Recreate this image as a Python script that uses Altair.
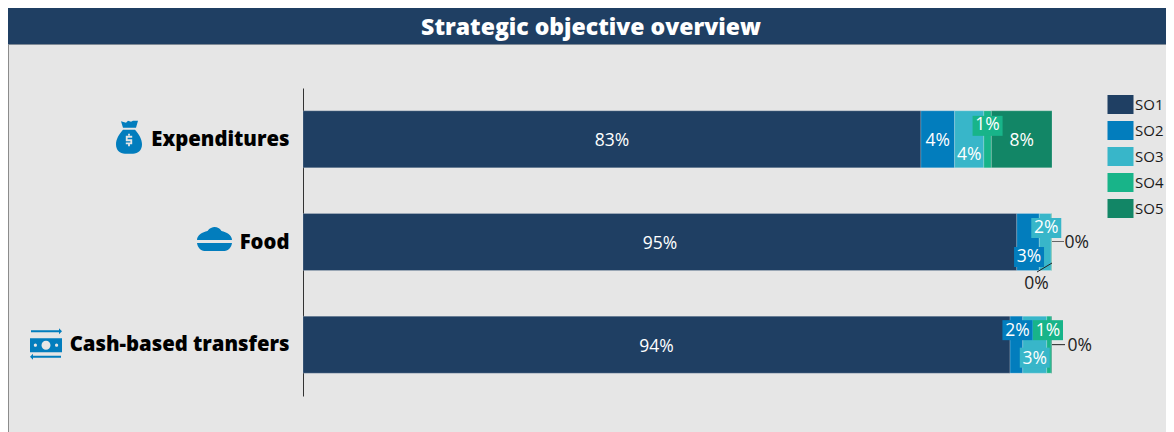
import altair as alt
import pandas as pd

categories = ["Expenditures", "Food", "Cash-based transfers"]
series = ["SO1", "SO2", "SO3", "SO4", "SO5"]
colors = ["#1f3f63", "#027dbd", "#38b6c9", "#18b489", "#128666"]

so1 = [82.5, 95.3, 94.4]
so2 = [4.5, 3.0, 1.7]
so3 = [3.9, 1.6, 3.2]
so4 = [1.0, 0.05, 0.6]
so5 = [8.1, 0.05, 0.1]
columns = [so1, so2, so3, so4, so5]

label_texts = [
    ["83%", "4%", "4%", "1%", "8%"],
    ["95%", "3%", "2%", "0%", "0%"],
    ["94%", "2%", "3%", "1%", "0%"],
]
# label displacement from the segment centre, in pixels
label_dx = [[0, 0, 0, 0, 0], [0, 1, 1, -15, 25], [0, 1, 0, -1, 28]]
label_dy = [[2, 2, 16, -14, 2], [2, 15, -14, 42, 1], [2, -14, 14, -14, 1]]
box_dy = [[0, 0, 0, -13.5, 0], [0, 15, -14, 0, 0], [0, -14.5, 13, -14.5, 0]]
boxed = [[0, 0, 0, 1, 0], [0, 1, 1, 0, 0], [0, 1, 1, 1, 0]]
dark_text = [[0, 0, 0, 0, 0], [0, 0, 0, 1, 1], [0, 0, 0, 0, 1]]

PX_PER_UNIT = 7.49
HALF_BAND = 28.5
TITLE = "Strategic objective overview"

bars = []
labels = []
for c, cat in enumerate(categories):
    start = 0.0
    for s, name in enumerate(series):
        v = columns[s][c]
        bars.append({"cat": cat, "so": name, "value": v, "ord": s})
        labels.append({
            "cat": cat, "so": name, "text": label_texts[c][s],
            "x": start + v / 2 + label_dx[c][s] / PX_PER_UNIT,
            "dy": label_dy[c][s] + HALF_BAND, "bdy": box_dy[c][s] + HALF_BAND,
            "boxed": boxed[c][s], "dark": dark_text[c][s],
        })
        start += v
bars = pd.DataFrame(bars)
labels = pd.DataFrame(labels)

BOX = "M-15,-10H15V10H-15Z"
BAG = ("M-8,-16L-3,-14.5L-1,-16.5L2,-15.5L4,-16.5L9,-16.5L7,-9.5L-6,-9.5Z"
       "M-6,-7.5L6,-7.5C10,-3 13,2 13,7C13,13 9,16.5 4,16.5L-4,16.5C-9,16.5 -13,13 -13,7C-13,2 -10,-3 -6,-7.5Z"
       "M3.2,-1.5L-3.2,-1.5L-3.2,3.8L1.4,3.8L1.4,5.2L-3.2,5.2L-3.2,7L3.2,7L3.2,2L-1.4,2L-1.4,0.3L3.2,0.3Z"
       "M0.9,-3.5L-0.9,-3.5L-0.9,-1.4L0.9,-1.4Z M0.9,6.9L-0.9,6.9L-0.9,9L0.9,9Z")
BOWL = ("M-17.5,1C-17.5,-4 -12,-7 -7,-8C-5,-11 -2,-12 0,-12C3,-12 5,-11 7,-8C12,-7 17.5,-4 17.5,1Z"
        "M-17.5,4H17.5C17,8 14,12 10,12H-10C-14,12 -17,8 -17.5,4Z")
CASH = ("M-16,-6.5H16V7.5H-16Z"
        "M4.5,0.5A4.5,4.5 0 1 0 -4.5,0.5A4.5,4.5 0 1 0 4.5,0.5Z"
        "M-9,0.5A1.6,1.6 0 1 0 -12.2,0.5A1.6,1.6 0 1 0 -9,0.5Z"
        "M12.2,0.5A1.6,1.6 0 1 0 9,0.5A1.6,1.6 0 1 0 12.2,0.5Z"
        "M-15,-14.5H13V-16.5L16,-13.5L13,-10.5V-12.5H-15Z"
        "M15,11H-13V9L-16,12L-13,15V13H15Z")
icons = pd.DataFrame({"cat": categories, "path": [BAG, BOWL, CASH],
                      "px": [129 - 303, 214.5 - 303, 46 - 303],
                      "dy": [-2 + HALF_BAND, -3 + HALF_BAND, 0 + HALF_BAND]})

leaders = pd.DataFrame({
    "cat": ["Food", "Food", "Cash-based transfers"],
    "x": [100, 100, 100],
    "path": ["M0,-0.5H12", "M0,21L-15,30", "M0,0H13"],
    "col": ["#666666", "#222222", "#222222"],
})

y_enc = alt.Y("cat:N", sort=categories,
              scale=alt.Scale(domain=categories, paddingInner=0.445, paddingOuter=0.2225),
              axis=alt.Axis(title=None, ticks=False, labelPadding=14, labelFontSize=20.3, labelOffset=0.5,
                            labelFont="Open Sans", labelFontWeight=800, labelColor="#000000",
                            domainColor="#333333", domainWidth=1, labelLimit=300))
x_scale = alt.Scale(domain=[0, 100], nice=False, zero=False)
x_none = alt.X("x:Q", scale=x_scale, axis=None)

one = pd.DataFrame({"a": [0]})

header = alt.Chart(one).mark_rect(color="#1f3f63").encode(
    x=alt.value(-295), x2=alt.value(863), y=alt.value(-80), y2=alt.value(-44))
header_line = alt.Chart(one).mark_rule(color="#7f8a96", strokeWidth=1).encode(
    x=alt.value(-295), x2=alt.value(863), y=alt.value(-43.5))
left_line = alt.Chart(one).mark_rule(color="#8c8c8c", strokeWidth=1).encode(
    x=alt.value(-294.5), y=alt.value(-43), y2=alt.value(344))

bar_layer = alt.Chart(bars).mark_bar(stroke="#ffffff", strokeOpacity=0.2, strokeWidth=1).encode(
    x=alt.X("value:Q", stack="zero", scale=x_scale, axis=None),
    y=y_enc,
    color=alt.Color("so:N", sort=series,
                    scale=alt.Scale(domain=series, range=colors),
                    legend=alt.Legend(title=None, orient="none", legendX=810, legendY=9,
                                      symbolType="M-13,-9.5H13V9.5H-13Z", symbolSize=4,
                                      symbolStrokeWidth=0, symbolOpacity=1,
                                      labelFont="Open Sans", labelFontSize=15, labelColor="#1a1a1a",
                                      labelOffset=7, rowPadding=7, padding=0)),
    order=alt.Order("ord:Q"),
)

box_layer = alt.Chart(labels).transform_filter("datum.boxed == 1").mark_point(
    filled=True, opacity=1, size=4, shape=BOX, strokeWidth=0).encode(
    x=x_none, y=alt.Y("cat:N", sort=categories),
    yOffset=alt.YOffset("bdy:Q", scale=None),
    color=alt.Color("so:N", legend=None),
)

leader_layer = alt.Chart(leaders).mark_point(filled=False, opacity=1, size=4, strokeWidth=1).encode(
    x=x_none, y=alt.Y("cat:N", sort=categories),
    shape=alt.Shape("path:N", scale=None),
    stroke=alt.Stroke("col:N", scale=None),
)

text_light = alt.Chart(labels).transform_filter("datum.dark == 0").mark_text(
    font="Open Sans", fontSize=17.5, color="#ffffff").encode(
    x=x_none, y=alt.Y("cat:N", sort=categories),
    yOffset=alt.YOffset("dy:Q", scale=None),
    text="text:N",
)
text_dark = alt.Chart(labels).transform_filter("datum.dark == 1").mark_text(
    font="Open Sans", fontSize=17.5, color="#222222").encode(
    x=x_none, y=alt.Y("cat:N", sort=categories),
    yOffset=alt.YOffset("dy:Q", scale=None),
    text="text:N",
)

icon_layer = alt.Chart(icons).mark_point(filled=True, opacity=1, size=4, strokeWidth=0, color="#027dbd").encode(
    x=alt.X("px:Q", scale=None),
    y=alt.Y("cat:N", sort=categories),
    yOffset=alt.YOffset("dy:Q", scale=None),
    shape=alt.Shape("path:N", scale=None),
)

chart = alt.layer(
    header, header_line, left_line, bar_layer, box_layer, leader_layer,
    text_light, text_dark, icon_layer,
).properties(
    width=749, height=308,
    background="#e6e6e6",
    padding={"left": 295, "top": 80, "right": 114, "bottom": 36},
    autosize=alt.AutoSizeParams(type="none"),
    title=alt.TitleParams(TITLE, anchor="middle", frame="group", dx=-86.5, offset=-43,
                          baseline="middle", font="Open Sans", fontSize=23,
                          fontWeight=800, color="#ffffff"),
).configure_view(stroke=None)

chart.save("out.html", embed_options={"renderer": "svg", "actions": False})
